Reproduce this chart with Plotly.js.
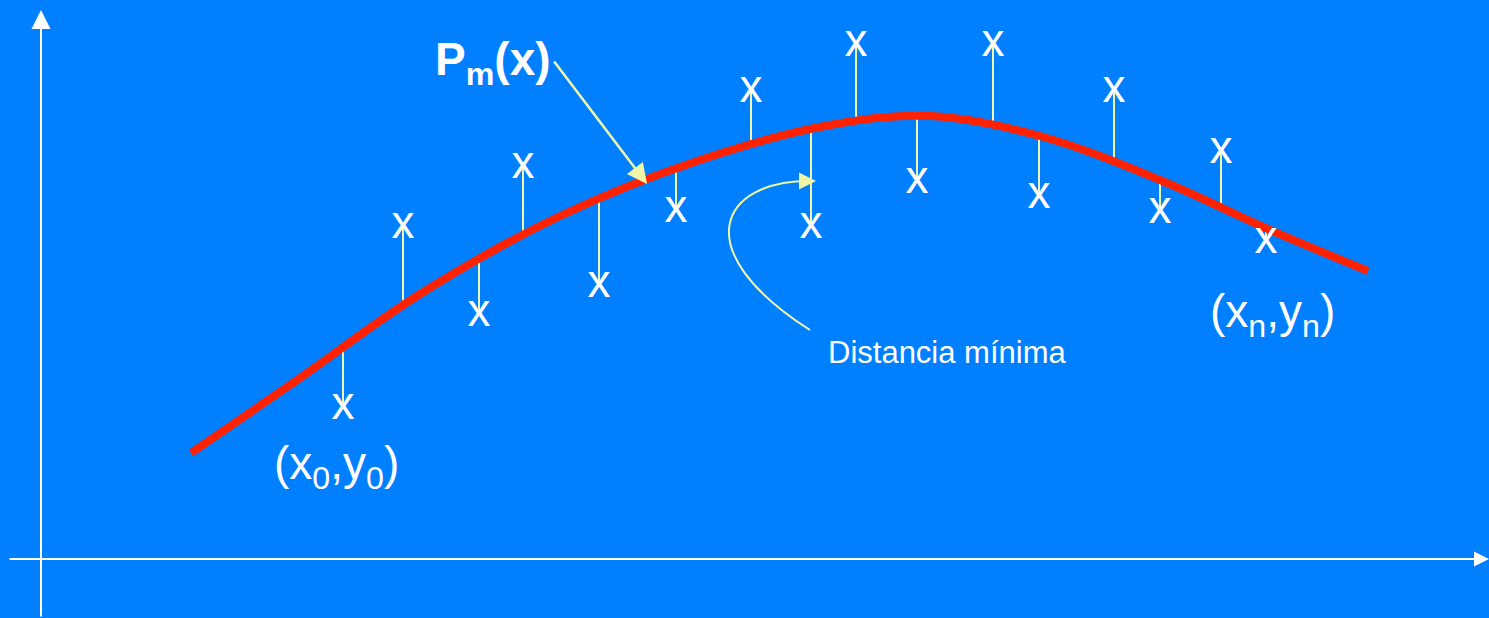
<!DOCTYPE html>
<html><head><meta charset="utf-8">
<script src="https://cdn.plot.ly/plotly-3.0.1.min.js"></script>
<style>html,body{margin:0;padding:0;background:#0080FF;overflow:hidden}</style>
</head><body><div id="chart" style="width:1489px;height:618px"></div>
<script>
// Data points (x_i, y_i)
const pointX = [302, 362, 438, 482, 558, 635, 710, 770, 815, 876, 952, 998, 1073, 1119, 1180, 1225];
const pointY = [152, 333, 245, 393, 274, 349, 469, 333, 515, 378, 515, 363, 469, 348, 408, 318];
// Fitted polynomial P_m(x_i) at each data x
const fitY = [211, 254, 301, 326, 360, 391, 417, 429, 440, 443, 438, 423, 401, 380, 354, 331];
// Samples of the fitted curve P_m(x)
const curveX = [150, 259, 379, 519, 659, 789, 889, 999, 1119, 1229, 1327];
const curveY = [106, 181, 265, 343, 399, 434, 443, 423, 379, 329, 288];
const markLabel = 'x';

const segX = [], segY = [];
pointX.forEach((x, i) => { segX.push(x, x, null); segY.push(fitY[i], pointY[i], null); });

const FONT = 'Liberation Sans, Arial, sans-serif';
const YEL = '#F0F6A8';

const traces = [
  {x: segX, y: segY, mode: 'lines', line: {color: YEL, width: 2}, hoverinfo: 'skip', showlegend: false},
  {x: curveX, y: curveY, mode: 'lines', line: {color: '#FF2200', width: 8, shape: 'spline', smoothing: 1}, hoverinfo: 'skip', showlegend: false},
  {x: pointX, y: pointY, mode: 'text', text: pointX.map(() => markLabel), textposition: 'middle center',
   textfont: {family: FONT, size: 46, color: '#FFFFFF'}, hoverinfo: 'skip', showlegend: false}
];

const arrow = (x, y, ax, ay, color, w, size) => ({
  x: x, y: y, ax: ax, ay: ay, xref: 'x', yref: 'y', axref: 'x', ayref: 'y',
  text: '', showarrow: true, arrowhead: 2, arrowsize: size, arrowwidth: w, arrowcolor: color, standoff: 0, startstandoff: 0
});

const layout = {
  width: 1489, height: 618,
  margin: {l: 0, r: 0, t: 0, b: 0},
  paper_bgcolor: '#0080FF', plot_bgcolor: '#0080FF',
  showlegend: false,
  xaxis: {range: [-41, 1448], visible: false, fixedrange: true},
  yaxis: {range: [-59, 559], visible: false, fixedrange: true},
  shapes: [
    {type: 'path', xref: 'x', yref: 'y', path: 'M 769 229 C 644 309, 679 379, 770 378',
     line: {color: YEL, width: 2}}
  ],
  annotations: [
    arrow(0, 549, 0, -59, '#FFFFFF', 2, 1.9),
    arrow(1448, 0, -33, 0, '#FFFFFF', 2, 1.5),
    arrow(606, 375, 512, 499, YEL, 2.5, 1.6),
    arrow(775, 378, 762, 378, YEL, 2, 1.7),
    {x: 452, y: 497, xref: 'x', yref: 'y', text: '<b>P<sub>m</sub>(x)</b>', showarrow: false,
     font: {family: FONT, size: 46, color: '#FFFFFF'}, xanchor: 'center', yanchor: 'middle'},
    {x: 295, y: 93, xref: 'x', yref: 'y', text: '(x<sub>0</sub>,y<sub>0</sub>)', showarrow: false,
     font: {family: FONT, size: 46, color: '#FFFFFF'}, xanchor: 'center', yanchor: 'middle'},
    {x: 1231, y: 245, xref: 'x', yref: 'y', text: '(x<sub>n</sub>,y<sub>n</sub>)', showarrow: false,
     font: {family: FONT, size: 46, color: '#FFFFFF'}, xanchor: 'center', yanchor: 'middle'},
    {x: 785, y: 207, xref: 'x', yref: 'y', text: 'Distancia mínima', showarrow: false,
     font: {family: FONT, size: 31, color: '#FFFFFF'}, xanchor: 'left', yanchor: 'middle'}
  ]
};

Plotly.newPlot('chart', traces, layout, {displayModeBar: false, staticPlot: true});
</script></body></html>
